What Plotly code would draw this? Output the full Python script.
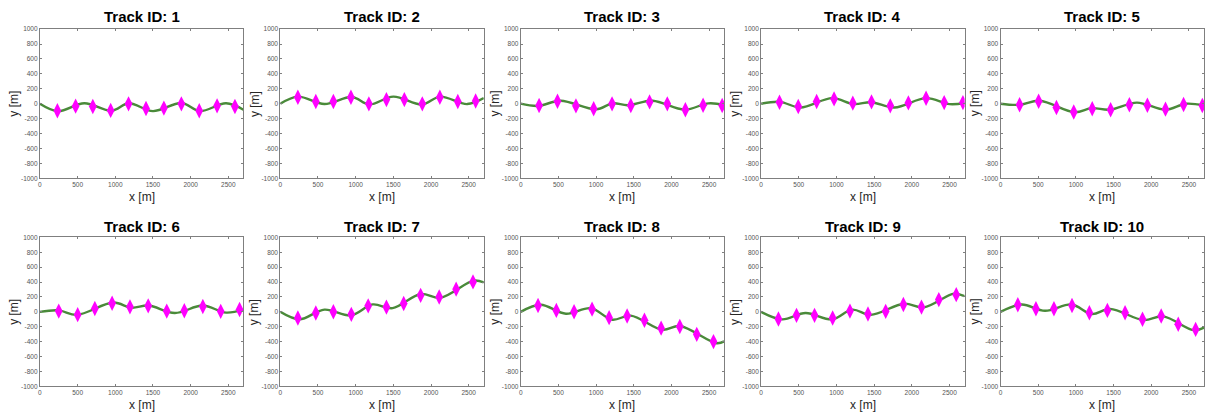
import plotly.graph_objects as go

W, H = 1205, 417

track_ids = [1, 2, 3, 4, 5, 6, 7, 8, 9, 10]

# measured positions (magenta diamonds)
meas_x = [
    [232, 474, 702, 939, 1176, 1408, 1645, 1877, 2114, 2351, 2588],
    [233, 471, 704, 937, 1175, 1408, 1646, 1884, 2117, 2355, 2592],
    [244, 488, 733, 968, 1212, 1461, 1710, 1945, 2185, 2420, 2673],
    [244, 493, 737, 968, 1217, 1465, 1714, 1954, 2189, 2429, 2678],
    [253, 506, 742, 972, 1217, 1461, 1710, 1949, 2189, 2429, 2678],
    [250, 501, 729, 958, 1195, 1437, 1683, 1916, 2162, 2399, 2649],
    [233, 471, 704, 942, 1166, 1408, 1637, 1862, 2108, 2333, 2557],
    [230, 473, 708, 947, 1173, 1412, 1642, 1863, 2111, 2336, 2558],
    [230, 470, 709, 949, 1179, 1418, 1653, 1888, 2128, 2358, 2589],
    [230, 470, 709, 949, 1179, 1418, 1653, 1884, 2132, 2358, 2589],
]
meas_y = [
    [-95, -33, -37, -90, -2, -64, -59, -2, -95, -29, -37],
    [86, 29, 29, 86, -2, 55, 55, -2, 86, 29, 37],
    [-24, 33, -29, -68, -2, -24, 24, -2, -81, -20, -24],
    [20, -37, 29, 64, 7, 24, -29, 11, 73, 15, 15],
    [-15, 33, -51, -112, -68, -81, -15, -20, -73, -11, -24],
    [11, -37, 46, 116, 68, 81, 11, 15, 73, 7, 33],
    [-81, -15, 2, -33, 81, 64, 112, 222, 200, 305, 402],
    [86, 20, 2, 37, -77, -55, -112, -218, -196, -301, -398],
    [-95, -46, -46, -81, 11, -29, 7, 99, 64, 165, 231],
    [95, 42, 42, 86, -11, 20, -11, -99, -55, -165, -235],
]

# true trajectory knots (green line)
path_x = [
    [0, 240, 590, 950, 1180, 1500, 1880, 2120, 2470, 2700],
    [0, 235, 585, 950, 1180, 1500, 1880, 2120, 2480, 2700],
    [0, 230, 530, 1000, 1220, 1420, 1750, 2175, 2490, 2700],
    [0, 250, 520, 945, 1230, 1460, 1770, 2190, 2500, 2700],
    [0, 250, 520, 985, 1210, 1450, 1810, 2185, 2460, 2700],
    [0, 250, 490, 975, 1215, 1440, 1790, 2160, 2470, 2700],
    [0, 255, 585, 940, 1225, 1490, 1862, 2125, 2565, 2700],
    [0, 265, 600, 930, 1215, 1460, 1880, 2110, 2600, 2700],
    [0, 280, 590, 945, 1210, 1455, 1897, 2160, 2560, 2700],
    [0, 280, 590, 945, 1210, 1455, 1897, 2160, 2560, 2700],
]
path_y = [
    [0, -100, 5, -95, 5, -100, 10, -100, 5, -80],
    [0, 95, -5, 90, -10, 95, -10, 95, -5, 75],
    [0, -30, 40, -75, 5, -20, 40, -80, 5, -15],
    [0, 25, -50, 75, -5, 20, -50, 75, -5, 10],
    [0, -15, 40, -115, -60, -80, 15, -80, 0, -25],
    [0, 20, -40, 125, 55, 85, -15, 85, -10, 30],
    [0, -100, 30, -45, 100, 50, 240, 190, 420, 395],
    [0, 95, -25, 50, -105, -50, -240, -190, -420, -395],
    [0, -100, -15, -100, 30, -40, 110, 60, 245, 210],
    [0, 100, 15, 100, -30, 40, -110, -60, -245, -210],
]

x_ticks = [0, 500, 1000, 1500, 2000, 2500]
y_ticks = [-1000, -800, -600, -400, -200, 0, 200, 400, 600, 800, 1000]
x_range = [0, 2700]
y_range = [-1000, 1000]

col_left = [38, 279, 520, 761, 1001]
plot_w = 204
row_top = [25.5, 237.3]
row_bot = [177.3, 389.0]
title_y = [13.0, 226.0]

LINE_C = "#4a8a3a"
MARK_C = "#ff00ff"
AX_C = "#7f7f7f"
FONT = "Liberation Sans, Arial, Helvetica, sans-serif"

fig = go.Figure()
annotations = []

for i, tid in enumerate(track_ids):
    r, c = divmod(i, 5)
    n = i + 1
    xa = "x" if n == 1 else f"x{n}"
    ya = "y" if n == 1 else f"y{n}"
    x0 = col_left[c] / W
    x1 = (col_left[c] + plot_w) / W
    y1 = 1 - row_top[r] / H
    y0 = 1 - row_bot[r] / H

    fig.add_trace(go.Scatter(
        x=path_x[i], y=path_y[i], mode="lines",
        line=dict(color=LINE_C, width=2.4, shape="spline", smoothing=1.0),
        xaxis=xa, yaxis=ya, showlegend=False, hoverinfo="skip"))
    fig.add_trace(go.Scatter(
        x=meas_x[i], y=meas_y[i], mode="markers",
        marker=dict(symbol="diamond-tall", size=11, color=MARK_C,
                    line=dict(width=0)),
        xaxis=xa, yaxis=ya, showlegend=False))

    axcommon = dict(showline=True, linecolor=AX_C, linewidth=1, mirror="ticks",
                    ticks="inside", ticklen=2, tickcolor=AX_C, showgrid=False,
                    zeroline=False, tickfont=dict(family=FONT, size=6.5, color="#555555"))
    fig.layout[("xaxis" if n == 1 else f"xaxis{n}")] = dict(
        domain=[x0, x1], anchor=ya, range=x_range, tickvals=x_ticks,
        ticktext=[str(t) for t in x_ticks], **axcommon)
    fig.layout[("yaxis" if n == 1 else f"yaxis{n}")] = dict(
        domain=[y0, y1], anchor=xa, range=y_range, tickvals=y_ticks,
        ticktext=[str(t) for t in y_ticks], **axcommon)

    cx = (col_left[c] + plot_w / 2) / W
    annotations.append(dict(
        text=f"<b>Track ID: {tid}</b>", x=cx, y=1 - title_y[r] / H,
        xref="paper", yref="paper", showarrow=False, xanchor="center", yanchor="middle",
        font=dict(family=FONT, size=15, color="#000000")))
    annotations.append(dict(
        text="x [m]", x=cx, y=1 - (row_bot[r] + 19) / H,
        xref="paper", yref="paper", showarrow=False, xanchor="center", yanchor="middle",
        font=dict(family=FONT, size=12, color="#262626")))
    annotations.append(dict(
        text="y [m]", x=(col_left[c] - 26) / W, y=1 - (row_top[r] + row_bot[r]) / 2 / H,
        xref="paper", yref="paper", showarrow=False, xanchor="center", yanchor="middle",
        textangle=-90, font=dict(family=FONT, size=12, color="#262626")))

fig.update_layout(
    width=W, height=H, margin=dict(l=0, r=0, t=0, b=0),
    paper_bgcolor="white", plot_bgcolor="white",
    annotations=annotations, showlegend=False)

fig.write_html("out.html", config={"displayModeBar": False},
               post_script="document.body.style.margin='0';document.body.style.overflow='hidden';")
